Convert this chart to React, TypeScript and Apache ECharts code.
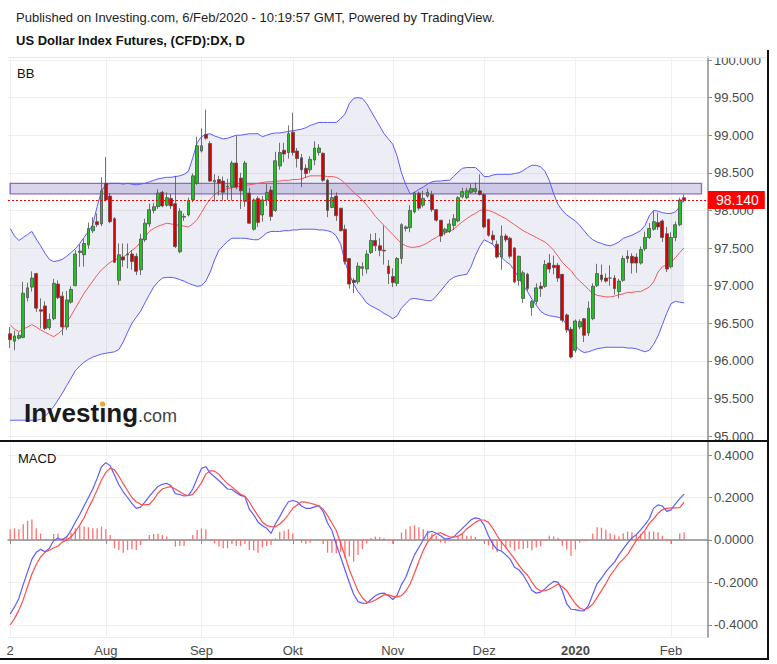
import React, { useEffect, useRef } from 'react';
import * as echarts from 'echarts';

// ---------- categories (trading days) ----------
const HOLIDAYS = ['2019-12-25', '2020-01-01'];
function tradingDays(start: string, end: string): string[] {
  const out: string[] = [];
  const d = new Date(start + 'T00:00:00Z');
  const e = new Date(end + 'T00:00:00Z');
  while (d <= e) {
    const wd = d.getUTCDay();
    const s = d.toISOString().slice(0, 10);
    if (wd !== 0 && wd !== 6 && !HOLIDAYS.includes(s)) out.push(s);
    d.setUTCDate(d.getUTCDate() + 1);
  }
  return out;
}
const dates = tradingDays('2019-07-02', '2020-02-06');
const PAD = 5;
const categories = [...dates, ...Array.from({ length: PAD }, (_, k) => `pad${k}`)];
const MONTHS = ['Jan', 'Feb', 'Mär', 'Apr', 'Mai', 'Jun', 'Jul', 'Aug', 'Sep', 'Okt', 'Nov', 'Dez'];

// ---------- price data ----------
const opens = [
  96.36, 96.26, 96.30, 96.31, 96.84, 96.98, 97.16, 96.68, 96.73, 96.44,
  96.56, 97.02, 96.86, 96.45, 96.78, 97.00, 97.44, 97.41, 97.54, 97.73,
  97.85, 97.82, 98.36, 98.19, 97.89, 97.07, 97.38, 97.41, 97.42, 97.39,
  97.21, 97.61, 97.82, 98.00, 98.05, 98.24, 98.07, 98.16, 98.09, 97.45,
  97.91, 97.94, 98.14, 98.36, 98.79, 99.01, 98.89, 98.38, 98.41, 98.39,
  98.31, 98.31, 98.63, 98.43, 98.12, 98.23, 97.75, 98.16, 97.94, 98.14,
  98.27, 98.00, 98.59, 98.80, 98.77, 99.04, 98.79, 98.70, 98.56, 98.54,
  98.67, 98.77, 98.76, 98.40, 98.04, 98.19, 98.03, 97.75, 97.36, 97.07,
  97.05, 97.23, 97.22, 97.44, 97.60, 97.53, 97.47, 97.26, 97.12, 97.03,
  97.36, 97.76, 97.77, 97.98, 98.23, 98.07, 98.19, 98.21, 98.01, 97.87,
  97.71, 97.72, 97.80, 97.86, 98.18, 98.17, 98.24, 98.25, 98.26, 98.21,
  97.88, 97.67, 97.55, 97.38, 97.66, 97.63, 97.50, 97.07, 96.83, 97.15,
  96.71, 96.79, 96.99, 96.99, 97.30, 97.27, 97.27, 97.15, 96.61, 96.42,
  96.14, 96.45, 96.56, 96.37, 96.56, 97.00, 97.14, 97.10, 97.10, 97.10,
  96.92, 97.07, 97.39, 97.39, 97.38, 97.30, 97.49, 97.64, 97.75, 97.84,
  97.86, 97.69, 97.25, 97.64, 97.81, 98.17,
];
const highs = [
  96.45, 96.40, 96.38, 97.05, 97.04, 97.19, 97.17, 96.83, 96.79, 96.63,
  97.09, 97.07, 96.92, 96.93, 96.99, 97.47, 97.55, 97.63, 97.84, 97.91,
  97.96, 98.44, 98.71, 98.23, 97.91, 97.56, 97.56, 97.56, 97.47, 97.43,
  97.69, 97.89, 98.09, 98.10, 98.28, 98.26, 98.24, 98.22, 98.46, 98.03,
  97.96, 98.17, 98.49, 98.98, 99.09, 99.34, 98.92, 98.48, 98.46, 98.45,
  98.42, 98.66, 98.99, 98.50, 98.66, 98.30, 98.16, 98.19, 98.19, 98.35,
  98.32, 98.78, 98.90, 98.90, 99.13, 99.30, 98.83, 98.75, 98.61, 98.72,
  98.92, 98.88, 98.77, 98.42, 98.28, 98.24, 98.03, 97.81, 97.36, 97.10,
  97.31, 97.31, 97.47, 97.69, 97.70, 97.63, 97.80, 97.34, 97.23, 97.38,
  97.83, 97.80, 98.07, 98.25, 98.25, 98.26, 98.29, 98.26, 98.02, 97.87,
  97.77, 97.88, 97.95, 98.19, 98.30, 98.30, 98.35, 98.37, 98.48, 98.23,
  97.89, 97.73, 97.60, 97.80, 97.69, 97.65, 97.51, 97.40, 97.20, 97.17,
  96.81, 97.03, 97.05, 97.34, 97.42, 97.40, 97.30, 97.15, 96.63, 96.45,
  96.55, 96.55, 96.57, 96.79, 97.03, 97.29, 97.28, 97.16, 97.27, 97.14,
  97.09, 97.40, 97.47, 97.43, 97.43, 97.52, 97.72, 97.83, 97.99, 97.97,
  97.88, 97.78, 97.71, 97.85, 98.17, 98.21,
];
const lows = [
  96.17, 96.14, 96.28, 96.30, 96.79, 96.92, 96.65, 96.43, 96.41, 96.41,
  96.54, 96.82, 96.34, 96.41, 96.76, 96.99, 97.25, 97.25, 97.49, 97.70,
  97.78, 97.79, 98.12, 97.83, 97.30, 97.01, 97.25, 97.23, 97.21, 97.14,
  97.14, 97.58, 97.78, 97.96, 98.02, 98.04, 98.05, 98.02, 97.50, 97.43,
  97.86, 97.92, 98.11, 98.34, 98.77, 98.94, 98.38, 98.12, 98.20, 98.13,
  98.14, 98.13, 98.28, 98.02, 98.05, 97.82, 97.73, 97.78, 97.85, 98.06,
  97.86, 97.98, 98.54, 98.64, 98.69, 98.73, 98.57, 98.31, 98.43, 98.50,
  98.60, 98.73, 98.38, 97.91, 98.03, 97.86, 97.72, 97.28, 96.96, 96.90,
  97.02, 97.13, 97.16, 97.42, 97.46, 97.39, 97.28, 97.02, 96.98, 96.99,
  97.29, 97.72, 97.71, 97.96, 98.00, 98.04, 98.17, 97.98, 97.85, 97.58,
  97.67, 97.70, 97.74, 97.84, 98.16, 98.15, 98.22, 98.22, 98.20, 97.76,
  97.65, 97.55, 97.36, 97.21, 97.58, 97.36, 97.03, 97.00, 96.77, 96.93,
  96.60, 96.75, 96.85, 96.97, 97.17, 97.15, 97.05, 96.51, 96.37, 96.03,
  96.11, 96.42, 96.25, 96.33, 96.54, 96.98, 97.05, 97.04, 97.00, 96.88,
  96.83, 97.05, 97.30, 97.16, 97.17, 97.28, 97.46, 97.62, 97.73, 97.74,
  97.58, 97.18, 97.23, 97.59, 97.79, 98.11,
];
const closes = [
  96.28, 96.33, 96.34, 96.90, 96.97, 97.10, 96.70, 96.66, 96.43, 96.55,
  97.03, 96.84, 96.45, 96.81, 96.95, 97.42, 97.46, 97.56, 97.76, 97.79,
  97.81, 98.26, 98.14, 97.85, 97.31, 97.41, 97.34, 97.42, 97.32, 97.19,
  97.62, 97.83, 98.01, 98.05, 98.23, 98.06, 98.17, 98.06, 97.52, 97.99,
  97.92, 98.13, 98.46, 98.86, 98.86, 98.96, 98.39, 98.40, 98.36, 98.24,
  98.32, 98.63, 98.31, 98.26, 98.63, 97.83, 98.14, 97.84, 98.14, 98.24,
  97.92, 98.66, 98.77, 98.75, 99.02, 98.77, 98.69, 98.54, 98.49, 98.68,
  98.83, 98.83, 98.40, 98.00, 98.17, 97.93, 97.73, 97.32, 97.02, 97.04,
  97.26, 97.25, 97.42, 97.60, 97.53, 97.47, 97.46, 97.16, 97.04, 97.36,
  97.81, 97.78, 98.00, 98.23, 98.03, 98.16, 98.24, 98.01, 97.87, 97.66,
  97.75, 97.82, 97.89, 98.17, 98.25, 98.26, 98.29, 98.29, 98.21, 97.78,
  97.67, 97.61, 97.38, 97.66, 97.61, 97.39, 97.05, 97.39, 97.17, 96.96,
  96.79, 96.97, 96.96, 97.28, 97.22, 97.24, 97.10, 96.54, 96.41, 96.05,
  96.53, 96.52, 96.34, 96.70, 96.99, 97.16, 97.08, 97.06, 97.10, 96.96,
  97.06, 97.36, 97.36, 97.30, 97.30, 97.48, 97.64, 97.76, 97.85, 97.78,
  97.64, 97.22, 97.64, 97.81, 98.14, 98.14,
];

// ---------- Bollinger bands ----------
const bbUpper = [
  97.76, 97.66, 97.60, 97.64, 97.68, 97.72, 97.62, 97.53, 97.43, 97.35,
  97.32, 97.33, 97.35, 97.39, 97.44, 97.49, 97.56, 97.64, 97.72, 97.81,
  98.05, 98.26, 98.34, 98.36, 98.36, 98.36, 98.35, 98.36, 98.35, 98.34,
  98.35, 98.36, 98.38, 98.40, 98.42, 98.43, 98.44, 98.44, 98.45, 98.46,
  98.48, 98.52, 98.70, 98.90, 98.98, 99.01, 99.02, 98.99, 98.97, 98.95,
  98.96, 98.98, 99.00, 99.00, 99.01, 99.02, 99.02, 99.02, 98.98, 99.00,
  99.02, 99.03, 99.03, 99.04, 99.05, 99.06, 99.07, 99.08, 99.10, 99.13,
  99.15, 99.17, 99.17, 99.17, 99.17, 99.17, 99.22, 99.28, 99.42, 99.49,
  99.50, 99.49, 99.42, 99.32, 99.22, 99.12, 99.02, 98.95, 98.88, 98.72,
  98.50, 98.34, 98.22, 98.24, 98.28, 98.31, 98.35, 98.38, 98.39, 98.39,
  98.40, 98.40, 98.45, 98.51, 98.56, 98.57, 98.57, 98.57, 98.52, 98.45,
  98.45, 98.47, 98.48, 98.48, 98.48, 98.48, 98.49, 98.50, 98.53, 98.57,
  98.60, 98.60, 98.58, 98.52, 98.40, 98.22, 98.08, 98.00, 97.94, 97.90,
  97.86, 97.80, 97.73, 97.66, 97.61, 97.58, 97.56, 97.54, 97.53, 97.55,
  97.58, 97.63, 97.65, 97.67, 97.70, 97.73, 97.80, 97.93, 98.00, 97.99,
  97.97, 97.96, 97.96, 97.98, 98.05, 98.16,
];
const bbLower = [
  95.21, 95.21, 95.21, 95.21, 95.21, 95.21, 95.21, 95.22, 95.26, 95.32,
  95.39, 95.48, 95.57, 95.67, 95.77, 95.87, 95.93, 95.98, 96.02, 96.05,
  96.07, 96.09, 96.10, 96.11, 96.12, 96.15, 96.25, 96.38, 96.50, 96.58,
  96.66, 96.77, 96.88, 96.98, 97.05, 97.10, 97.11, 97.11, 97.10, 97.08,
  97.06, 97.03, 97.01, 96.99, 97.00, 97.06, 97.18, 97.34, 97.47, 97.53,
  97.59, 97.63, 97.63, 97.63, 97.63, 97.62, 97.61, 97.61, 97.65, 97.70,
  97.72, 97.72, 97.72, 97.73, 97.73, 97.74, 97.74, 97.75, 97.75, 97.75,
  97.75, 97.74, 97.74, 97.73, 97.71, 97.66, 97.55, 97.32, 97.15, 97.02,
  96.92, 96.85, 96.77, 96.73, 96.70, 96.67, 96.63, 96.60, 96.56, 96.60,
  96.70, 96.76, 96.82, 96.83, 96.82, 96.81, 96.80, 96.80, 96.86, 96.93,
  97.00, 97.07, 97.11, 97.13, 97.14, 97.15, 97.25, 97.40, 97.52, 97.61,
  97.58, 97.55, 97.47, 97.38, 97.32, 97.28, 97.20, 97.10, 97.00, 96.92,
  96.82, 96.74, 96.66, 96.62, 96.60, 96.59, 96.58, 96.56, 96.48, 96.32,
  96.20, 96.14, 96.11, 96.12, 96.14, 96.16, 96.17, 96.18, 96.18, 96.18,
  96.18, 96.18, 96.17, 96.17, 96.16, 96.14, 96.12, 96.14, 96.22, 96.33,
  96.48, 96.63, 96.76, 96.79, 96.78, 96.77,
];
const bbMiddle = [
  96.48, 96.42, 96.39, 96.42, 96.45, 96.48, 96.45, 96.41, 96.38, 96.35,
  96.32, 96.36, 96.41, 96.51, 96.60, 96.70, 96.80, 96.90, 96.98, 97.06,
  97.14, 97.21, 97.26, 97.31, 97.34, 97.36, 97.38, 97.42, 97.47, 97.51,
  97.58, 97.65, 97.72, 97.76, 97.79, 97.81, 97.83, 97.82, 97.81, 97.80,
  97.79, 97.78, 97.82, 97.88, 97.97, 98.07, 98.15, 98.21, 98.25, 98.27,
  98.29, 98.30, 98.31, 98.32, 98.33, 98.34, 98.35, 98.36, 98.37, 98.38,
  98.38, 98.39, 98.39, 98.40, 98.40, 98.41, 98.41, 98.42, 98.44, 98.46,
  98.46, 98.46, 98.46, 98.45, 98.45, 98.44, 98.41, 98.36, 98.30, 98.24,
  98.19, 98.14, 98.07, 98.00, 97.92, 97.86, 97.80, 97.74, 97.68, 97.62,
  97.56, 97.53, 97.51, 97.51, 97.52, 97.54, 97.57, 97.61, 97.64, 97.68,
  97.70, 97.72, 97.75, 97.80, 97.85, 97.89, 97.93, 97.96, 98.00, 98.01,
  98.00, 97.98, 97.95, 97.92, 97.89, 97.85, 97.81, 97.77, 97.73, 97.70,
  97.67, 97.64, 97.61, 97.58, 97.53, 97.47, 97.39, 97.31, 97.25, 97.20,
  97.12, 97.06, 97.01, 96.95, 96.90, 96.87, 96.86, 96.85, 96.85, 96.86,
  96.88, 96.89, 96.91, 96.91, 96.92, 96.92, 96.95, 96.98, 97.05, 97.18,
  97.25, 97.28, 97.31, 97.37, 97.44, 97.50,
];

// ---------- MACD ----------
const macdLine = [
  -0.348, -0.315, -0.275, -0.21, -0.15, -0.09, -0.058, -0.044, -0.055, -0.04,
  -0.002, 0.008, 0.001, 0.015, 0.045, 0.085, 0.12, 0.16, 0.2, 0.24,
  0.29, 0.345, 0.364, 0.35, 0.305, 0.26, 0.227, 0.2, 0.172, 0.149,
  0.155, 0.178, 0.205, 0.23, 0.252, 0.262, 0.267, 0.255, 0.218, 0.214,
  0.207, 0.21, 0.24, 0.29, 0.337, 0.345, 0.315, 0.298, 0.28, 0.26,
  0.24, 0.238, 0.222, 0.21, 0.204, 0.145, 0.118, 0.085, 0.067, 0.055,
  0.031, 0.075, 0.11, 0.148, 0.18, 0.186, 0.18, 0.16, 0.149, 0.149,
  0.156, 0.162, 0.133, 0.08, 0.045, -0.02, -0.08, -0.14, -0.2, -0.255,
  -0.29, -0.297, -0.298, -0.28, -0.262, -0.252, -0.25, -0.262, -0.28, -0.26,
  -0.21, -0.175, -0.12, -0.07, -0.035, 0.0, 0.035, 0.041, 0.032, 0.02,
  0.005, 0.006, 0.015, 0.035, 0.055, 0.075, 0.095, 0.104, 0.1, 0.07,
  0.02, -0.02, -0.045, -0.052, -0.07, -0.09, -0.128, -0.14, -0.165, -0.2,
  -0.238, -0.25, -0.245, -0.23, -0.21, -0.195, -0.198, -0.24, -0.3, -0.326,
  -0.328, -0.332, -0.334, -0.309, -0.255, -0.205, -0.18, -0.15, -0.125, -0.104,
  -0.07, -0.042, -0.015, 0.01, 0.025, 0.048, 0.072, 0.1, 0.15, 0.165,
  0.16, 0.135, 0.142, 0.17, 0.195, 0.216,
];
const signalLine = [
  -0.40, -0.37, -0.33, -0.282, -0.22, -0.16, -0.115, -0.08, -0.058, -0.048,
  -0.038, -0.028, -0.01, 0.0, 0.015, 0.04, 0.07, 0.105, 0.15, 0.19,
  0.235, 0.282, 0.318, 0.338, 0.33, 0.3, 0.265, 0.232, 0.2, 0.18,
  0.168, 0.165, 0.168, 0.19, 0.22, 0.24, 0.247, 0.251, 0.24, 0.227,
  0.215, 0.208, 0.215, 0.24, 0.27, 0.31, 0.326, 0.324, 0.31, 0.285,
  0.265, 0.25, 0.232, 0.215, 0.206, 0.18, 0.145, 0.115, 0.085, 0.068,
  0.063, 0.062, 0.075, 0.094, 0.12, 0.149, 0.165, 0.18, 0.178, 0.173,
  0.168, 0.16, 0.145, 0.115, 0.08, 0.045, -0.015, -0.075, -0.14, -0.19,
  -0.24, -0.272, -0.292, -0.292, -0.282, -0.27, -0.258, -0.258, -0.265, -0.268,
  -0.262, -0.24, -0.207, -0.155, -0.1, -0.05, -0.01, 0.016, 0.03, 0.034,
  0.024, 0.015, 0.013, 0.018, 0.03, 0.052, 0.068, 0.083, 0.094, 0.094,
  0.083, 0.055, 0.02, -0.01, -0.035, -0.062, -0.089, -0.118, -0.145, -0.166,
  -0.198, -0.226, -0.24, -0.238, -0.232, -0.22, -0.207, -0.22, -0.238, -0.27,
  -0.3, -0.32, -0.328, -0.32, -0.302, -0.27, -0.238, -0.205, -0.168, -0.14,
  -0.11, -0.09, -0.068, -0.035, -0.003, 0.022, 0.045, 0.078, 0.1, 0.125,
  0.142, 0.149, 0.151, 0.151, 0.152, 0.177,
];
const macdHist = [
  0.05, 0.055, 0.05, 0.074, 0.09, 0.097, 0.055, 0.03, 0.003, 0,
  0.028, 0.031, 0.008, 0.016, 0.034, 0.055, 0.063, 0.063, 0.06, 0.055,
  0.055, 0.063, 0.05, 0.024, -0.039, -0.047, -0.06, -0.047, -0.044, -0.047,
  -0.024, 0.003, 0.024, 0.028, 0.031, 0.024, 0.016, 0, -0.031, -0.028,
  -0.028, 0, 0.024, 0.047, 0.055, 0.05, 0.003, -0.016, -0.031, -0.039,
  -0.039, -0.019, -0.028, -0.028, -0.019, -0.047, -0.05, -0.06, -0.035, -0.028,
  -0.024, 0.008, 0.039, 0.044, 0.05, 0.031, 0.003, -0.013, -0.019, -0.013,
  0, 0.003, -0.019, -0.06, -0.06, -0.063, -0.055, -0.086, -0.078, -0.102,
  -0.071, -0.044, -0.016, 0.009, 0.016, 0.013, 0.008, -0.005, -0.018, 0,
  0.035, 0.05, 0.065, 0.07, 0.06, 0.05, 0.045, 0.03, 0.02, -0.012,
  -0.015, -0.005, 0.005, 0.02, 0.03, 0.02, 0.02, 0.015, 0.005, -0.008,
  -0.025, -0.045, -0.058, -0.048, -0.04, -0.035, -0.05, -0.042, -0.042, -0.038,
  -0.048, -0.035, -0.03, -0.002, 0.02, 0.016, 0.01, -0.027, -0.045, -0.075,
  -0.045, -0.012, -0.006, 0, 0.03, 0.06, 0.058, 0.048, 0.032, 0.025,
  0.018, 0.032, 0.04, 0.036, 0.025, 0.028, 0.04, 0.04, 0.04, 0.036,
  0.02, -0.006, -0.018, 0, 0.03, 0.036,
];

// ---------- annotations ----------
const LAST_PRICE = 98.14;
const ZONE = [98.22, 98.36];
const ZONE_END_INDEX = 159;

const FONT = '"Liberation Sans", Arial, sans-serif';

function labelFor(i: number): string {
  if (i >= dates.length) return '';
  const d = dates[i];
  if (i === 0) return String(Number(d.slice(8, 10)));
  if (d.slice(5, 7) !== dates[i - 1].slice(5, 7)) {
    const m = Number(d.slice(5, 7)) - 1;
    return m === 0 ? `{y|${d.slice(0, 4)}}` : MONTHS[m];
  }
  return '';
}
const isLabel = (i: number) => labelFor(i) !== '';

function buildOption(): any {
  const candleData = opens.map((o, i) => [o, closes[i], lows[i], highs[i]]);
  const bandWidth = bbUpper.map((u, i) => +(u - bbLower[i]).toFixed(4));
  const splitColor = '#efefef';
  const axisGray = '#8c8c8c';
  const labelColor = '#4a4a4a';

  return {
    animation: false,
    backgroundColor: '#ffffff',
    textStyle: { fontFamily: FONT },
    grid: [
      { left: 8, right: 69, top: 57, height: 383 },
      { left: 8, right: 69, top: 441, height: 196 },
    ],
    xAxis: [
      {
        type: 'category', gridIndex: 0, data: categories, boundaryGap: true,
        axisLine: { show: false }, axisTick: { show: false }, axisLabel: { show: false },
        splitLine: { show: true, interval: (i: number) => isLabel(i), alignWithLabel: true, lineStyle: { color: splitColor } },
      },
      {
        type: 'category', gridIndex: 1, data: categories, boundaryGap: true,
        axisLine: { show: true, lineStyle: { color: axisGray, width: 1.5 } },
        axisTick: { show: true, interval: (i: number) => isLabel(i), alignWithLabel: true, length: 4, lineStyle: { color: axisGray } },
        axisLabel: {
          interval: (i: number) => isLabel(i),
          formatter: (_v: string, i: number) => labelFor(i),
          color: labelColor, fontSize: 13, margin: 7, fontFamily: FONT,
          rich: { y: { fontWeight: 'bold', fontSize: 13, color: labelColor, fontFamily: FONT } },
        },
        splitLine: { show: true, interval: (i: number) => isLabel(i), alignWithLabel: true, lineStyle: { color: splitColor } },
      },
    ],
    yAxis: [
      {
        type: 'value', gridIndex: 0, position: 'right', scale: true,
        min: 94.947, max: 100.04, splitNumber: 10, minInterval: 0.5, maxInterval: 0.5,
        axisLine: { show: true, lineStyle: { color: axisGray, width: 1.5 } },
        axisTick: { show: true, length: 4, lineStyle: { color: axisGray } },
        axisLabel: {
          showMinLabel: false, showMaxLabel: false, color: labelColor, fontSize: 13, margin: 6, fontFamily: FONT,
          formatter: (v: number) => v.toFixed(3),
        },
        splitLine: { show: true, lineStyle: { color: splitColor } },
      },
      {
        type: 'value', gridIndex: 1, position: 'right',
        min: -0.4565, max: 0.4659, splitNumber: 5, minInterval: 0.2, maxInterval: 0.2,
        axisLine: { show: true, lineStyle: { color: axisGray, width: 1.5 } },
        axisTick: { show: true, length: 4, lineStyle: { color: axisGray } },
        axisLabel: {
          showMinLabel: false, showMaxLabel: false, color: labelColor, fontSize: 13, margin: 6, fontFamily: FONT,
          formatter: (v: number) => (Math.abs(v) < 1e-9 ? '0.0000' : v.toFixed(4)),
        },
        splitLine: { show: true, lineStyle: { color: splitColor } },
      },
    ],
    series: [
      {
        name: 'bbBase', type: 'line', xAxisIndex: 0, yAxisIndex: 0, stack: 'bb',
        data: bbLower, symbol: 'none', lineStyle: { opacity: 0 }, silent: true, z: 1,
      },
      {
        name: 'bbFill', type: 'line', xAxisIndex: 0, yAxisIndex: 0, stack: 'bb',
        data: bandWidth, symbol: 'none', lineStyle: { opacity: 0 }, silent: true, z: 1,
        areaStyle: { color: 'rgba(120,120,190,0.19)' },
        markArea: {
          silent: true,
          itemStyle: { color: 'rgba(115,91,179,0.26)', borderColor: '#8a6cc6', borderWidth: 1.4 },
          data: [[
            { xAxis: categories[0], yAxis: ZONE[0] },
            { xAxis: categories[ZONE_END_INDEX], yAxis: ZONE[1] },
          ]],
        },
      },
      {
        name: 'bbUpper', type: 'line', xAxisIndex: 0, yAxisIndex: 0, data: bbUpper,
        symbol: 'none', lineStyle: { color: '#5a5aff', width: 1 }, silent: true, z: 2,
      },
      {
        name: 'bbLower', type: 'line', xAxisIndex: 0, yAxisIndex: 0, data: bbLower,
        symbol: 'none', lineStyle: { color: '#5a5aff', width: 1 }, silent: true, z: 2,
      },
      {
        name: 'bbMiddle', type: 'line', xAxisIndex: 0, yAxisIndex: 0, data: bbMiddle,
        symbol: 'none', lineStyle: { color: '#f25a5a', width: 1 }, silent: true, z: 2,
      },
      {
        name: 'price', type: 'candlestick', xAxisIndex: 0, yAxisIndex: 0, data: candleData,
        barWidth: 3.3, z: 3,
        itemStyle: {
          color: '#1ec41e', color0: '#d60000',
          borderColor: '#505050', borderColor0: '#505050', borderWidth: 0.8,
        },
        markLine: {
          silent: true, symbol: ['none', 'none'],
          lineStyle: { color: '#ff0000', type: [2, 2], width: 1 },
          label: {
            show: true, position: 'end', distance: 0, formatter: LAST_PRICE.toFixed(3),
            backgroundColor: '#ff0000', color: '#ffffff', fontSize: 14, fontFamily: FONT,
            padding: [2, 6, 2, 8],
          },
          data: [{ yAxis: LAST_PRICE }],
        },
      },
      {
        name: 'hist', type: 'bar', xAxisIndex: 1, yAxisIndex: 1, data: macdHist,
        barWidth: 1.3, itemStyle: { color: '#ff6f6f' }, silent: true,
      },
      {
        name: 'macd', type: 'line', xAxisIndex: 1, yAxisIndex: 1, data: macdLine,
        symbol: 'none', lineStyle: { color: '#5c5cff', width: 1.2 }, silent: true,
      },
      {
        name: 'signal', type: 'line', xAxisIndex: 1, yAxisIndex: 1, data: signalLine,
        symbol: 'none', lineStyle: { color: '#ff4d4d', width: 1.2 }, silent: true,
      },
    ],
    graphic: [
      { type: 'text', x: 16, y: 17, silent: true, style: { text: 'Published on Investing.com, 6/Feb/2020 - 10:19:57 GMT, Powered by TradingView.', fill: '#1e1e1e', fontSize: 13, fontFamily: FONT, verticalAlign: 'middle' } },
      { type: 'text', x: 16, y: 40, silent: true, style: { text: 'US Dollar Index Futures, (CFD):DX, D', fill: '#111', fontSize: 13, fontWeight: 'bold', fontFamily: FONT, verticalAlign: 'middle' } },
      { type: 'text', x: 17, y: 73, silent: true, z: 50, style: { text: 'BB', fill: '#111', fontSize: 13, fontFamily: FONT, verticalAlign: 'middle' } },
      { type: 'text', x: 18, y: 458, silent: true, z: 50, style: { text: 'MACD', fill: '#111', fontSize: 13, fontFamily: FONT, verticalAlign: 'middle' } },
      // watermark
      { type: 'text', x: 24, y: 412.5, silent: true, z: 50, style: { text: 'Investing', fill: '#1a1a1a', fontSize: 26, fontWeight: 'bold', fontFamily: FONT, verticalAlign: 'middle' } },
      { type: 'text', x: 138, y: 416, silent: true, z: 50, style: { text: '.com', fill: '#444', fontSize: 18, fontFamily: FONT, verticalAlign: 'middle' } },
      { type: 'circle', silent: true, z: 51, shape: { cx: 102.5, cy: 404, r: 2.6 }, style: { fill: '#f5a623' } },
      // clipping masks for edge labels
      { type: 'rect', silent: true, z: 90, shape: { x: 710, y: 44, width: 56, height: 13 }, style: { fill: '#ffffff' } },
      { type: 'rect', silent: true, z: 90, shape: { x: 710, y: 440, width: 56, height: 7 }, style: { fill: '#ffffff' } },
      // frame
      { type: 'line', silent: true, z: 95, shape: { x1: 8, y1: 57.5, x2: 768, y2: 57.5 }, style: { stroke: '#e6e6e6', lineWidth: 1 } },
      { type: 'line', silent: true, z: 100, shape: { x1: 0, y1: 441, x2: 769, y2: 441 }, style: { stroke: '#111', lineWidth: 2 } },
      { type: 'line', silent: true, z: 100, shape: { x1: 768, y1: 50, x2: 768, y2: 660 }, style: { stroke: '#111', lineWidth: 2 } },
      { type: 'line', silent: true, z: 100, shape: { x1: 0, y1: 659, x2: 769, y2: 659 }, style: { stroke: '#111', lineWidth: 2 } },
    ],
  };
}

export default function App() {
  const ref = useRef<HTMLDivElement>(null);
  useEffect(() => {
    if (!ref.current) return;
    const chart = echarts.init(ref.current, undefined, { renderer: 'svg' });
    chart.setOption(buildOption());
    return () => chart.dispose();
  }, []);
  return (
    <div
      ref={ref}
      style={{ position: 'fixed', left: 0, top: 0, width: 777, height: 664, background: '#fff' }}
    />
  );
}
